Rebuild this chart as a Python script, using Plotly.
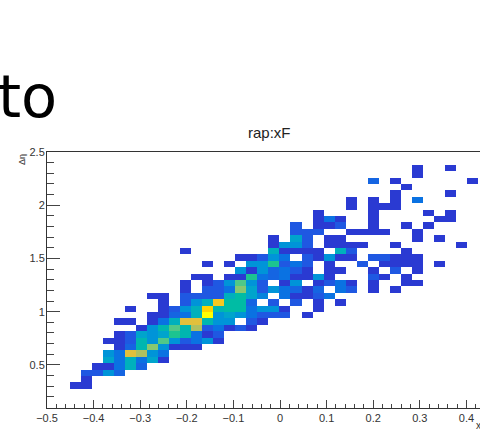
import plotly.graph_objects as go

W, H = 480, 429

# Bin layout of the 2D histogram
x_first_edge = -0.498
x_bin_width = 0.02367
y_first_edge = 0.096
y_bin_width = 0.0601
n_x_bins = 40
n_y_bins = 40

# Filled bins per row: (x bin, count)
row_03 = [(2,1),(3,1)]
row_04 = [(3,1)]
row_05 = [(3,3),(4,3),(5,7),(6,4)]
row_06 = [(4,1),(5,1),(6,5),(7,9),(8,4)]
row_07 = [(5,8),(6,5),(7,9),(8,5),(9,8),(10,1)]
row_08 = [(5,7),(6,5),(7,19),(8,17),(9,7),(10,5)]
row_09 = [(6,1),(7,4),(8,10),(9,15),(10,7),(11,1),(12,1),(13,1)]
row_10 = [(5,1),(6,1),(7,3),(8,10),(9,7),(10,13),(11,7),(12,3),(13,5),(14,7),(15,1)]
row_11 = [(6,1),(7,3),(8,8),(9,7),(10,8),(11,12),(12,10),(13,5),(14,1),(15,3)]
row_12 = [(8,1),(9,7),(10,10),(11,13),(12,10),(13,17),(14,3),(15,5),(16,1),(17,3),(18,1)]
row_13 = [(6,1),(7,1),(9,1),(10,5),(11,9),(12,19),(13,19),(14,10),(15,7),(16,7),(18,3),(19,1)]
row_14 = [(9,1),(10,1),(11,4),(12,5),(13,9),(14,23),(15,7),(16,8),(17,7),(18,5),(19,3),(20,3),(21,3),(23,1)]
row_15 = [(7,1),(10,1),(11,3),(12,7),(13,9),(14,21),(15,10),(16,11),(17,11),(18,5),(19,7),(20,7),(21,1),(24,1)]
row_16 = [(10,1),(12,3),(13,7),(14,9),(15,20),(16,11),(17,11),(18,4),(20,3),(22,3),(24,1),(26,1)]
row_17 = [(9,1),(10,1),(12,3),(13,3),(14,3),(15,3),(16,9),(17,11),(18,8),(19,6),(21,5),(22,1),(23,1),(24,3),(25,5)]
row_18 = [(12,1),(14,3),(15,3),(16,5),(17,15),(18,8),(19,3),(20,7),(21,5),(22,4),(23,1),(24,4),(26,5),(27,3),(29,1),(31,1)]
row_19 = [(12,1),(14,1),(15,3),(16,7),(17,13),(18,7),(19,3),(21,1),(22,7),(24,1),(25,3),(26,5),(27,1),(29,1),(32,1),(33,1)]
row_20 = [(13,1),(14,1),(16,1),(17,1),(18,12),(19,5),(20,4),(21,5),(22,1),(23,1),(24,7),(25,1),(29,3),(30,1),(32,1)]
row_21 = [(17,7),(18,1),(19,7),(20,4),(21,5),(22,3),(23,1),(25,1),(26,1),(29,1),(31,3),(33,1)]
row_22 = [(14,1),(16,1),(18,7),(19,7),(20,12),(21,3),(22,5),(23,3),(25,1),(28,3),(30,1),(31,1),(32,1),(33,1),(35,1)]
row_23 = [(17,1),(18,1),(19,3),(20,7),(21,5),(23,3),(24,1),(25,7),(26,1),(27,1),(29,3),(30,3),(31,1),(32,1),(33,1)]
row_24 = [(12,1),(20,9),(21,1),(22,1),(23,1),(24,1),(26,9),(27,3),(32,1)]
row_25 = [(20,1),(21,7),(22,7),(23,3),(25,1),(26,1),(27,1),(28,1),(31,1),(37,1)]
row_26 = [(20,1),(22,8),(23,3),(25,1),(26,1),(33,1),(35,1)]
row_27 = [(22,3),(23,3),(24,3),(27,1),(28,1),(29,1),(30,1),(33,1)]
row_28 = [(22,3),(24,1),(25,1),(26,3),(29,1),(32,1),(34,1)]
row_29 = [(24,1),(25,5),(26,1),(29,1),(35,1),(36,1)]
row_30 = [(24,1),(29,1),(34,1),(36,1)]
row_31 = [(27,1),(29,1),(30,1),(31,1)]
row_32 = [(27,1),(29,1),(31,1),(33,5)]
row_33 = [(31,1),(36,1)]
row_34 = [(32,1)]
row_35 = [(29,4),(31,1),(38,1)]
row_36 = [(33,1)]
row_37 = [(33,1),(36,1)]

rows = {
    3: row_03, 4: row_04, 5: row_05, 6: row_06, 7: row_07, 8: row_08, 9: row_09,
    10: row_10, 11: row_11, 12: row_12, 13: row_13, 14: row_14, 15: row_15,
    16: row_16, 17: row_17, 18: row_18, 19: row_19, 20: row_20, 21: row_21,
    22: row_22, 23: row_23, 24: row_24, 25: row_25, 26: row_26, 27: row_27,
    28: row_28, 29: row_29, 30: row_30, 31: row_31, 32: row_32, 33: row_33,
    34: row_34, 35: row_35, 36: row_36, 37: row_37,
}

z = [[None] * n_x_bins for _ in range(n_y_bins)]
for r, cells in rows.items():
    for k, c in cells:
        z[r][k] = c

x_ticks = [-0.5, -0.4, -0.3, -0.2, -0.1, 0, 0.1, 0.2, 0.3, 0.4]
x_labels = ["\u22120.5", "\u22120.4", "\u22120.3", "\u22120.2", "\u22120.1", "0", "0.1", "0.2", "0.3", "0.4"]
y_ticks = [0.5, 1, 1.5, 2, 2.5]
y_labels = ["0.5", "1", "1.5", "2", "2.5"]

scale_points = [
    (1, "#2a3ad2"), (3, "#1f58e2"), (5, "#0a72e2"), (7, "#0094d8"), (8, "#00a4cc"),
    (9, "#00b0bc"), (11, "#00bca4"), (12, "#1cc490"), (13, "#50c888"), (15, "#88c870"),
    (17, "#b0c060"), (19, "#e2c03c"), (20, "#f8c820"), (21, "#ffd400"), (23, "#ffff00"),
]
colorscale = [[(v - 1) / 22, c] for v, c in scale_points]

fig = go.Figure()
fig.add_trace(go.Heatmap(
    z=z, x0=x_first_edge + x_bin_width / 2, dx=x_bin_width,
    y0=y_first_edge + y_bin_width / 2, dy=y_bin_width,
    zmin=1, zmax=23, colorscale=colorscale, showscale=False, hoverongaps=False,
))
fig.add_trace(go.Scatter(
    x=[27.5], y=[102], mode="text", text=["to"], textposition="middle center",
    textfont=dict(family="DejaVu Sans", size=59, color="#000000"),
    xaxis="x2", yaxis="y2", cliponaxis=True, showlegend=False,
))

axis_font = dict(family="Liberation Sans", size=11, color="#333333")
fig.update_layout(
    width=W, height=H, margin=dict(l=0, r=0, t=0, b=0, autoexpand=False),
    paper_bgcolor="white", plot_bgcolor="white", showlegend=False,
    xaxis=dict(
        domain=[47 / W, 1], range=[-0.5, -0.5 + 433 / 466], showgrid=False, zeroline=False,
        automargin=False, tickmode="array", tickvals=x_ticks, ticktext=x_labels, ticks="inside", ticklen=8,
        tickwidth=1, tickcolor="#444444", tickfont=axis_font, showline=True,
        linecolor="#333333", linewidth=1, mirror=True,
        minor=dict(ticks="inside", ticklen=4, tickwidth=1, tickcolor="#444444", dtick=0.02, tick0=0, showgrid=False),
    ),
    yaxis=dict(
        domain=[(H - 407.5) / H, (H - 152) / H], range=[0.1, 2.5], showgrid=False, zeroline=False,
        automargin=False, tickmode="array", tickvals=y_ticks, ticktext=y_labels, ticks="inside", ticklen=13,
        ticklabelstandoff=-1,
        tickwidth=1, tickcolor="#444444", tickfont=axis_font, showline=True,
        linecolor="#333333", linewidth=1,
        minor=dict(ticks="inside", ticklen=7, tickwidth=1, tickcolor="#444444", dtick=0.1, tick0=0, showgrid=False),
    ),
    xaxis2=dict(domain=[0, 1], range=[0, W], visible=False, anchor="y2", automargin=False),
    yaxis2=dict(domain=[(H - 120) / H, 1], range=[120, 0], visible=False, anchor="x2", automargin=False),
    annotations=[
        dict(text="rap:xF", x=269 / W, y=1 - 132 / H, xref="paper", yref="paper", showarrow=False,
             xanchor="center", yanchor="middle",
             font=dict(family="Liberation Sans", size=15, color="#222222")),
        dict(text="\u0394\u03b7", x=22 / W, y=1 - 160 / H, xref="paper", yref="paper", showarrow=False,
             xanchor="center", yanchor="middle", textangle=-90,
             font=dict(family="Liberation Sans", size=9, color="#333333")),
        dict(text="x", x=478 / W, y=1 - 425 / H, xref="paper", yref="paper", showarrow=False,
             xanchor="center", yanchor="middle",
             font=dict(family="Liberation Sans", size=10, color="#333333")),
    ],
)

fig.write_html("out.html", config={"displayModeBar": False},
               post_script="document.body.style.margin='0';document.body.style.overflow='hidden';")
